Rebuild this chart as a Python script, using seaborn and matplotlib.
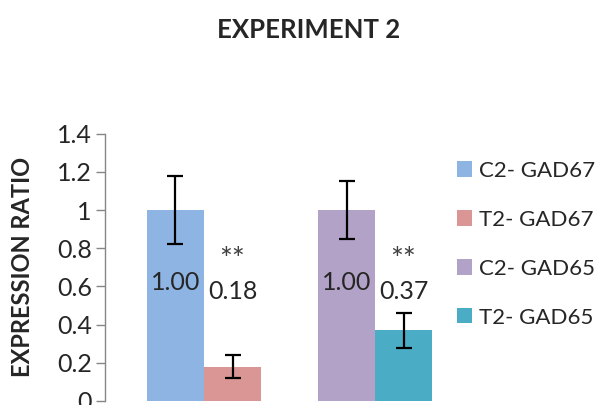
import pandas as pd
import matplotlib
matplotlib.use("Agg")
import matplotlib.pyplot as plt
import seaborn as sns
from matplotlib.patches import Patch

# Data
genes = ["GAD67", "GAD67", "GAD65", "GAD65"]
conditions = ["C2", "T2", "C2", "T2"]
values = [1.00, 0.18, 1.00, 0.37]
errors = [0.18, 0.06, 0.15, 0.09]
series_names = ["C2- GAD67", "T2- GAD67", "C2- GAD65", "T2- GAD65"]
bar_colors = ["#8EB4E3", "#D99694", "#B3A2C7", "#4BACC6"]
value_labels = ["1.00", "0.18", "1.00", "0.37"]
stars = ["", "**", "", "**"]

df = pd.DataFrame({"gene": genes, "cond": conditions, "value": values,
                   "err": errors, "series": series_names})

sns.set_style("white")
plt.rcParams['font.family'] = ['Lato', 'DejaVu Sans']

fig = plt.figure(figsize=(5.95, 4.05), dpi=100)
ax = fig.add_axes([105 / 595, 4 / 405, (440 - 105) / 595, 267.4 / 405])

sns.barplot(data=df, x="gene", y="value", hue="cond", width=0.667, gap=0,
            errorbar=None, legend=False, ax=ax)

# recolor bars per series and add error bars / labels
for (gene, cond), color, err, lab, st in zip(zip(genes, conditions), bar_colors,
                                             errors, value_labels, stars):
    ci = ["C2", "T2"].index(cond)
    gi = ["GAD67", "GAD65"].index(gene)
    bar = ax.containers[ci][gi]
    bar.set_facecolor(color)
    bar.set_edgecolor("none")
    cx = bar.get_x() + bar.get_width() / 2
    h = bar.get_height()
    ax.errorbar(cx, h, yerr=err, color="black", capsize=5.5, capthick=1.6,
                elinewidth=1.6, fmt="none")
    if cond == "C2":
        ax.text(cx, 0.62, lab, ha="center", va="center", fontsize=18)
    else:
        ax.text(cx, 0.575, lab, ha="center", va="center", fontsize=18)
        ax.text(cx, 0.74, st, ha="center", va="center", fontsize=22, color="#404040")

ax.set_ylim(0, 1.4)
ax.set_xlim(-0.579, 1.38)
ax.set_yticks([0, 0.2, 0.4, 0.6, 0.8, 1.0, 1.2, 1.4])
ax.set_yticklabels(["0", "0.2", "0.4", "0.6", "0.8", "1", "1.2", "1.4"])
ax.set_xticks([])
ax.set_xlabel("")
ax.set_ylabel("")
ax.tick_params(axis="y", direction="out", length=6.5, width=1, color="#868686",
               labelsize=18, pad=3, left=True)
for side in ["top", "right", "bottom"]:
    ax.spines[side].set_visible(False)
ax.spines["left"].set_color("#868686")
ax.spines["left"].set_linewidth(1)

fig.text(23 / 595, 1 - 267 / 405, "EXPRESSION RATIO", rotation=90,
         ha="center", va="center", fontsize=17, fontweight="bold")
fig.text(309 / 595, 1 - 30 / 405, "EXPERIMENT 2", ha="center", va="center",
         fontsize=18.5, fontweight="bold")

handles = [Patch(facecolor=c, edgecolor="none", label=n)
           for c, n in zip(bar_colors, series_names)]
fig.legend(handles=handles, loc="upper left", bbox_to_anchor=(448 / 595, 1 - 152 / 405),
           frameon=False, fontsize=16, handlelength=0.68, handleheight=0.68,
           handletextpad=0.33, labelspacing=1.3, borderaxespad=0)

fig.savefig("out.png", dpi=100)
